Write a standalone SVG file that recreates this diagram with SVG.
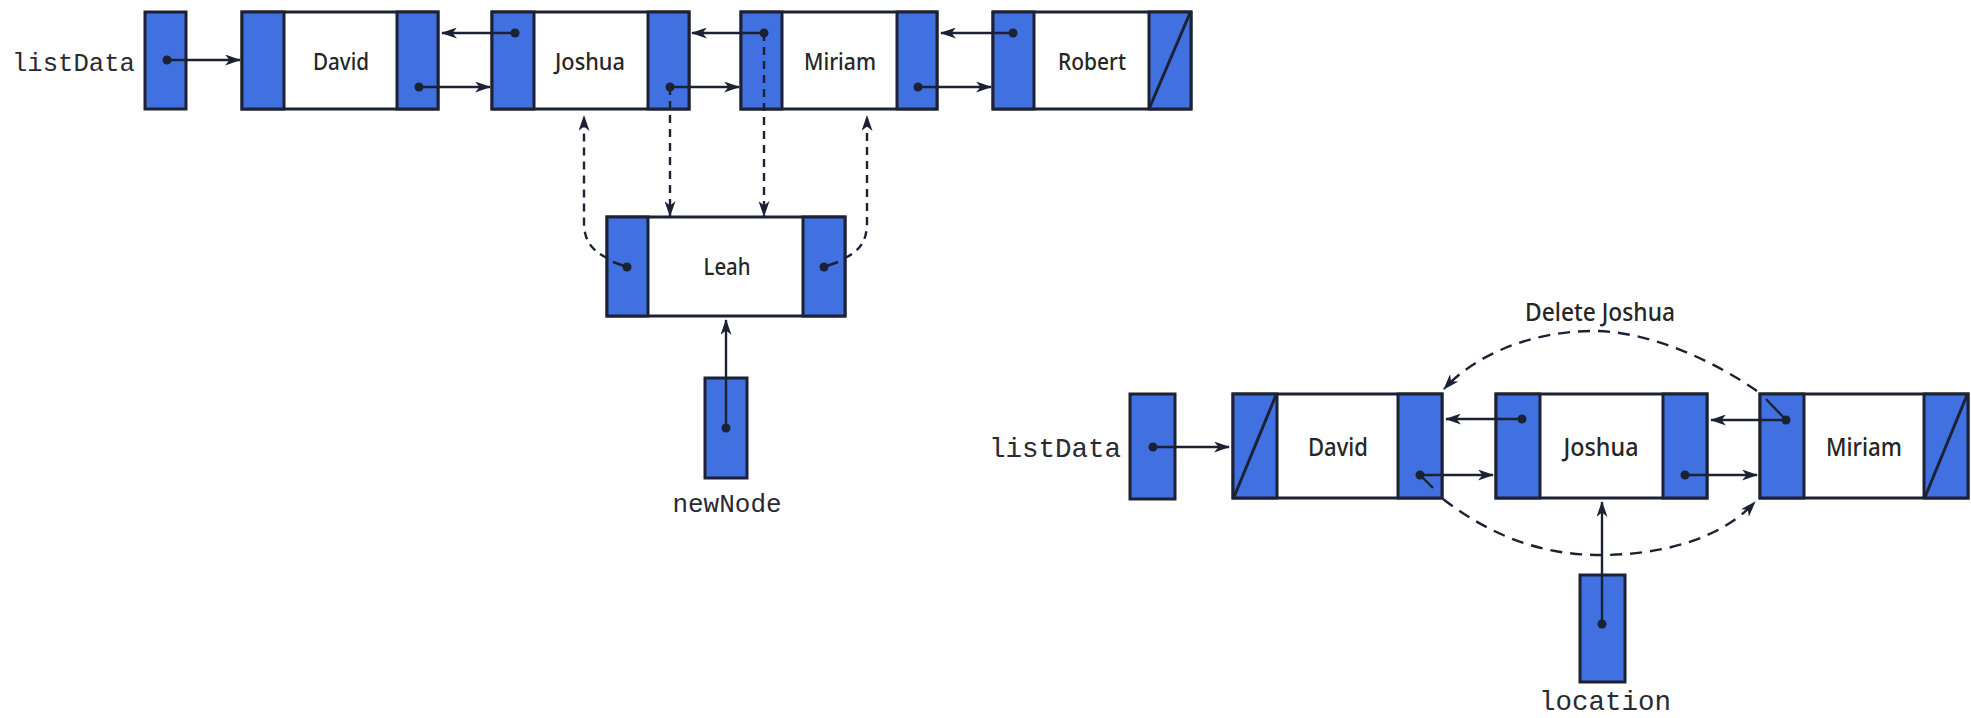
<svg xmlns="http://www.w3.org/2000/svg" width="1971" height="718" viewBox="0 0 1971 718">
  <style>
    .cell { fill: #4170e0; stroke: #1c2233; stroke-width: 3; }
    .data { fill: #ffffff; stroke: #1c2233; stroke-width: 3; }
    .slash { stroke: #1c2233; stroke-width: 3; fill: none; }
    .dot { fill: #1c2233; }
    .lbl { font-family: "Noto Sans", "Liberation Sans", sans-serif; fill: #262626; text-anchor: middle; font-weight: 500; }
    .up { font-size: 23px; }
    .lo { font-size: 26px; }
    .mono { font-family: "Liberation Mono", "DejaVu Sans Mono", monospace; fill: #2a2a33; }
    .wire { stroke: #1c2233; stroke-width: 2.4; fill: none; }
    .arrow { marker-end: url(#ah); }
    .dash1 { stroke-dasharray: 8 6; }
    .dash2 { stroke-dasharray: 12 8; }
  </style>
  <defs>
    <marker id="ah" viewBox="0 0 16 11" refX="15" refY="5.5" markerWidth="16" markerHeight="11" markerUnits="userSpaceOnUse" orient="auto">
      <path d="M0,0 L16,5.5 L0,11 L4.5,5.5 z" fill="#1c2233"/>
    </marker>
  </defs>

  <!-- ===== Insertion of Leah ===== -->
  <g id="listData-top">
    <rect class="cell" x="145" y="12" width="41" height="97"/>
    <circle class="dot" cx="167" cy="60" r="4.5"/>
    <text class="mono" x="12" y="71" font-size="25.6">listData</text>
  </g>

  <g id="node-david">
    <rect class="data" x="242" y="12" width="196" height="97"/>
    <rect class="cell" x="242" y="12" width="42" height="97"/>
    <rect class="cell" x="397" y="12" width="41" height="97"/>
    <circle class="dot" cx="419" cy="87" r="4.5"/>
    <text class="lbl up" x="341" y="70" textLength="56" lengthAdjust="spacingAndGlyphs">David</text>
  </g>

  <g id="node-joshua">
    <rect class="data" x="492" y="12" width="197" height="97"/>
    <rect class="cell" x="492" y="12" width="42" height="97"/>
    <rect class="cell" x="648" y="12" width="41" height="97"/>
    <circle class="dot" cx="515" cy="33" r="4.5"/>
    <circle class="dot" cx="670" cy="87" r="4.5"/>
    <text class="lbl up" x="590" y="70" textLength="70" lengthAdjust="spacingAndGlyphs">Joshua</text>
  </g>

  <g id="node-miriam">
    <rect class="data" x="741" y="12" width="196" height="97"/>
    <rect class="cell" x="741" y="12" width="41" height="97"/>
    <rect class="cell" x="897" y="12" width="40" height="97"/>
    <circle class="dot" cx="764" cy="33" r="4.5"/>
    <circle class="dot" cx="918" cy="87" r="4.5"/>
    <text class="lbl up" x="840" y="70" textLength="72" lengthAdjust="spacingAndGlyphs">Miriam</text>
  </g>

  <g id="node-robert">
    <rect class="data" x="993" y="12" width="198" height="97"/>
    <rect class="cell" x="993" y="12" width="41" height="97"/>
    <rect class="cell" x="1149" y="12" width="42" height="97"/>
    <line class="slash" x1="1149" y1="109" x2="1190" y2="13"/>
    <circle class="dot" cx="1013" cy="33" r="4.5"/>
    <text class="lbl up" x="1092" y="70" textLength="68" lengthAdjust="spacingAndGlyphs">Robert</text>
  </g>

  <g id="node-leah">
    <rect class="data" x="607" y="217" width="238" height="99"/>
    <rect class="cell" x="607" y="217" width="41" height="99"/>
    <rect class="cell" x="803" y="217" width="42" height="99"/>
    <circle class="dot" cx="627" cy="267" r="4.5"/>
    <circle class="dot" cx="824" cy="267" r="4.5"/>
    <text class="lbl up" x="727" y="275" textLength="47" lengthAdjust="spacingAndGlyphs">Leah</text>
  </g>

  <g id="newNode">
    <rect class="cell" x="705" y="378" width="42" height="100"/>
    <circle class="dot" cx="726" cy="428" r="4.5"/>
    <text class="mono" x="727" y="512" font-size="26" text-anchor="middle">newNode</text>
  </g>

  <!-- ===== Deletion of Joshua ===== -->
  <g id="listData-bottom">
    <rect class="cell" x="1130" y="394" width="45" height="105"/>
    <circle class="dot" cx="1153" cy="447" r="4.5"/>
    <text class="mono" x="1121" y="457" font-size="27.5" text-anchor="end">listData</text>
  </g>

  <g id="node-david-2">
    <rect class="data" x="1233" y="394" width="209" height="104"/>
    <rect class="cell" x="1233" y="394" width="44" height="104"/>
    <rect class="cell" x="1398" y="394" width="44" height="104"/>
    <line class="slash" x1="1234" y1="497" x2="1276" y2="395"/>
    <circle class="dot" cx="1420" cy="475" r="4.5"/>
    <text class="lbl lo" x="1338" y="456" textLength="60" lengthAdjust="spacingAndGlyphs">David</text>
  </g>

  <g id="node-joshua-2">
    <rect class="data" x="1496" y="394" width="211" height="104"/>
    <rect class="cell" x="1496" y="394" width="44" height="104"/>
    <rect class="cell" x="1663" y="394" width="44" height="104"/>
    <circle class="dot" cx="1522" cy="419" r="4.5"/>
    <circle class="dot" cx="1685" cy="475" r="4.5"/>
    <text class="lbl lo" x="1601" y="456" textLength="75" lengthAdjust="spacingAndGlyphs">Joshua</text>
  </g>

  <g id="node-miriam-2">
    <rect class="data" x="1760" y="394" width="208" height="104"/>
    <rect class="cell" x="1760" y="394" width="44" height="104"/>
    <rect class="cell" x="1924" y="394" width="44" height="104"/>
    <line class="slash" x1="1925" y1="497" x2="1967" y2="395"/>
    <circle class="dot" cx="1786" cy="420" r="4.5"/>
    <text class="lbl lo" x="1864" y="456" textLength="76" lengthAdjust="spacingAndGlyphs">Miriam</text>
  </g>

  <g id="location">
    <rect class="cell" x="1580" y="575" width="45" height="107"/>
    <circle class="dot" cx="1602" cy="624" r="4.5"/>
    <text class="mono" x="1605" y="710" font-size="27.5" text-anchor="middle">location</text>
  </g>

  <g id="delete-label">
    <text class="lbl" x="1600" y="321" font-size="25" textLength="150" lengthAdjust="spacingAndGlyphs">Delete Joshua</text>
  </g>

  <!-- ===== Connectors ===== -->
  <g id="connectors">
    <!-- upper list pointers -->
    <path class="wire arrow" d="M167,60 H240"/>
    <path class="wire arrow" d="M419,87 H490"/>
    <path class="wire arrow" d="M515,33 H442"/>
    <path class="wire arrow" d="M670,87 H739"/>
    <path class="wire arrow" d="M764,33 H692"/>
    <path class="wire arrow" d="M918,87 H991"/>
    <path class="wire arrow" d="M1013,33 H941"/>
    <path class="wire arrow" d="M726,428 V320"/>

    <!-- links rewired around Leah -->
    <path class="wire dash1 arrow" d="M670,87 V216"/>
    <path class="wire dash1 arrow" d="M764,33 V216"/>
    <path class="wire" d="M627,267 L613,262"/>
    <path class="wire dash1 arrow" d="M607,258 C591,250 584,240 584,222 V116"/>
    <path class="wire" d="M824,267 L838,262"/>
    <path class="wire dash1 arrow" d="M845,258 C861,250 867,240 867,222 V116"/>

    <!-- lower list pointers -->
    <path class="wire arrow" d="M1153,447 H1229"/>
    <path class="wire arrow" d="M1420,475 H1493"/>
    <path class="wire arrow" d="M1522,419 H1446"/>
    <path class="wire arrow" d="M1685,475 H1757"/>
    <path class="wire arrow" d="M1786,420 H1711"/>
    <path class="wire arrow" d="M1602,624 V502"/>

    <!-- bypass links around Joshua -->
    <path class="wire" d="M1420,475 L1433,488"/>
    <path class="wire" d="M1786,420 L1766,399"/>
    <path class="wire dash2 arrow" d="M1757,391 C1715,362 1650,330 1590,331 C1530,332 1475,355 1444,389"/>
    <path class="wire dash2 arrow" d="M1443,499 C1490,535 1540,555 1600,555 C1660,555 1720,540 1755,502"/>
  </g>
</svg>
